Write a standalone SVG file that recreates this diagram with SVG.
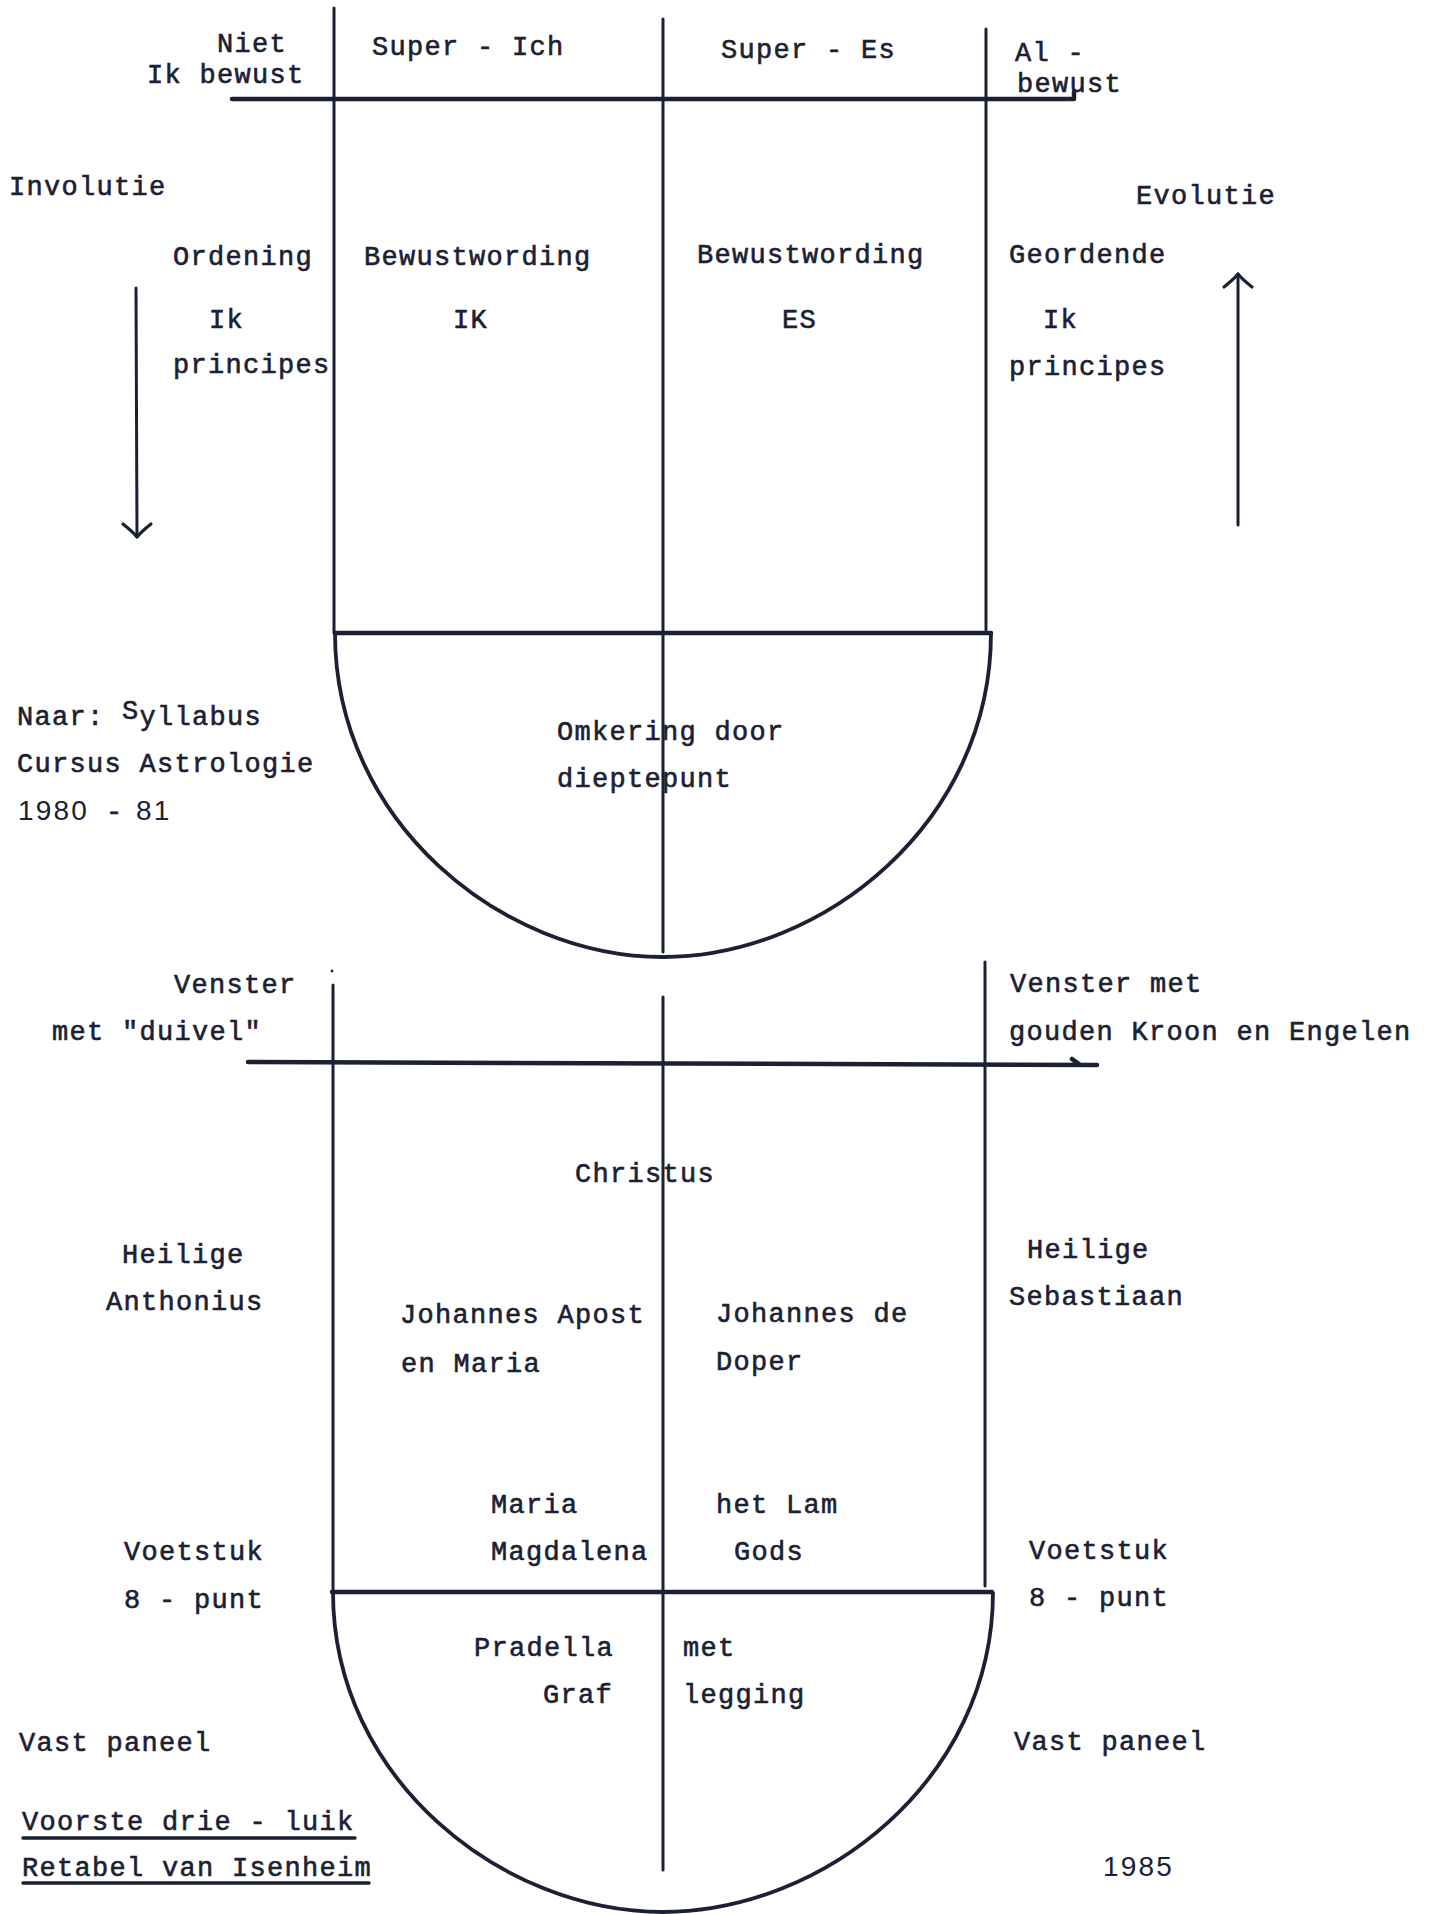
<svg xmlns="http://www.w3.org/2000/svg" width="1429" height="1914" viewBox="0 0 1429 1914">
<style>
.bg{fill:#ffffff}
.ln{fill:none;stroke:#1b2133;stroke-width:3;stroke-linecap:round}
.hv{fill:none;stroke:#1b2133;stroke-width:4.5;stroke-linecap:round}
.bw{fill:none;stroke:#1b2133;stroke-width:3.8}
.t{font-family:"Liberation Mono","Courier New",monospace;font-size:27px;letter-spacing:1.3px;fill:#1b2133;stroke:#1b2133;stroke-width:0.6}
.d{font-family:"Liberation Sans",Arial,sans-serif;font-size:28px;letter-spacing:2.2px;fill:#1b2133}
</style>
<defs>
<marker id="chev" markerUnits="userSpaceOnUse" viewBox="-20 -20 30 40" markerWidth="30" markerHeight="40" refX="0" refY="0" orient="auto" overflow="visible">
<path d="M-13 -14 Q-5 -4 0 0 Q-5 4 -13 14" fill="none" stroke="#1b2133" stroke-width="3.2" stroke-linecap="round" stroke-linejoin="round"/>
</marker>
</defs>
<rect class="bg" x="0" y="0" width="1429" height="1914"/>

<g id="frame-top">
<path class="ln" d="M334 8 V633"/>
<path class="ln" d="M663 19 V952"/>
<path class="ln" d="M986 29 V630"/>
<path class="hv" d="M232 99 H1074 M1074 99 V92"/>
<path class="hv" d="M335 633 H991"/>
<path class="bw" d="M335 633 C335 822 502 957 663 957 C824 957 991 822 991 633"/>
</g>

<g id="frame-bottom">
<circle cx="332" cy="971" r="1.4" fill="#1b2133"/>
<path class="ln" d="M333 985 V1592"/>
<path class="ln" d="M663 997 V1870"/>
<path class="ln" d="M985 962 V1586"/>
<path class="hv" d="M248 1062 L1097 1065 M1072 1059 L1079 1064"/>
<path class="hv" d="M332 1592 H992"/>
<path class="bw" d="M333 1592 C333 1779 502 1912 663 1912 C824 1912 993 1779 993 1592"/>
</g>

<g id="connectors">
<path id="arrow-involutie" class="ln" d="M136 288 L137 537" marker-end="url(#chev)"/>
<path id="arrow-evolutie" class="ln" d="M1238 525 L1238 274" marker-end="url(#chev)"/>
</g>

<g id="top-labels">
<g id="niet-ik-bewust"><text class="t" x="217" y="52">Niet</text><text class="t" x="147" y="83">Ik bewust</text></g>
<g id="super-ich"><text class="t" x="372" y="55">Super - Ich</text></g>
<g id="super-es"><text class="t" x="721" y="58">Super - Es</text></g>
<g id="al-bewust"><text class="t" x="1015" y="61">Al -</text><text class="t" x="1017" y="92">bewust</text></g>
<g id="involutie"><text class="t" x="9" y="195">Involutie</text></g>
<g id="evolutie"><text class="t" x="1136" y="204">Evolutie</text></g>
<g id="ordening"><text class="t" x="173" y="265">Ordening</text><text class="t" x="209" y="328">Ik</text><text class="t" x="173" y="373">principes</text></g>
<g id="bewustwording-ik"><text class="t" x="364" y="265">Bewustwording</text><text class="t" x="453" y="328">IK</text></g>
<g id="bewustwording-es"><text class="t" x="697" y="263">Bewustwording</text><text class="t" x="782" y="328">ES</text></g>
<g id="geordende"><text class="t" x="1009" y="263">Geordende</text><text class="t" x="1043" y="328">Ik</text><text class="t" x="1009" y="375">principes</text></g>
<g id="omkering"><text class="t" x="557" y="740">Omkering door</text><text class="t" x="557" y="787">dieptepunt</text></g>
<g id="bron"><text class="t" x="17" y="725">Naar: <tspan dy="-6">S</tspan><tspan dy="6">yllabus</tspan></text><text class="t" x="17" y="772">Cursus Astrologie</text><text class="d" y="820"><tspan x="18">1980</tspan><tspan x="106" class="t">-</tspan><tspan x="136">81</tspan></text></g>
</g>

<g id="bottom-labels">
<g id="venster-duivel"><text class="t" x="174" y="993">Venster</text><text class="t" x="52" y="1040">met "duivel"</text></g>
<g id="venster-kroon"><text class="t" x="1010" y="992">Venster met</text><text class="t" x="1009" y="1040">gouden Kroon en Engelen</text></g>
<g id="christus"><text class="t" x="575" y="1182">Christus</text></g>
<g id="anthonius"><text class="t" x="122" y="1263">Heilige</text><text class="t" x="106" y="1310">Anthonius</text></g>
<g id="sebastiaan"><text class="t" x="1027" y="1258">Heilige</text><text class="t" x="1009" y="1305">Sebastiaan</text></g>
<g id="johannes-apost"><text class="t" x="400" y="1323">Johannes Apost</text><text class="t" x="401" y="1372">en Maria</text></g>
<g id="johannes-doper"><text class="t" x="716" y="1322">Johannes de</text><text class="t" x="716" y="1370">Doper</text></g>
<g id="maria-magdalena"><text class="t" x="491" y="1513">Maria</text><text class="t" x="491" y="1560">Magdalena</text></g>
<g id="lam-gods"><text class="t" x="716" y="1513">het Lam</text><text class="t" x="734" y="1560">Gods</text></g>
<g id="voetstuk-l"><text class="t" x="124" y="1560">Voetstuk</text><text class="t" x="124" y="1608">8 - punt</text></g>
<g id="voetstuk-r"><text class="t" x="1029" y="1559">Voetstuk</text><text class="t" x="1029" y="1606">8 - punt</text></g>
<g id="pradella"><text class="t" x="474" y="1656">Pradella</text><text class="t" x="543" y="1703">Graf</text></g>
<g id="grafmetlegging"><text class="t" x="683" y="1656">met</text><text class="t" x="683" y="1703">legging</text></g>
<g id="vast-paneel-l"><text class="t" x="19" y="1751">Vast paneel</text></g>
<g id="vast-paneel-r"><text class="t" x="1014" y="1750">Vast paneel</text></g>
<g id="titel"><text class="t" x="22" y="1830">Voorste drie - luik</text><path class="ln" d="M23 1838 H355" style="stroke-width:3.5"/><text class="t" x="22" y="1876">Retabel van Isenheim</text><path class="ln" d="M23 1883 H369" style="stroke-width:3.5"/></g>
<g id="jaar"><text class="d" x="1103" y="1876">1985</text></g>
</g>
</svg>
